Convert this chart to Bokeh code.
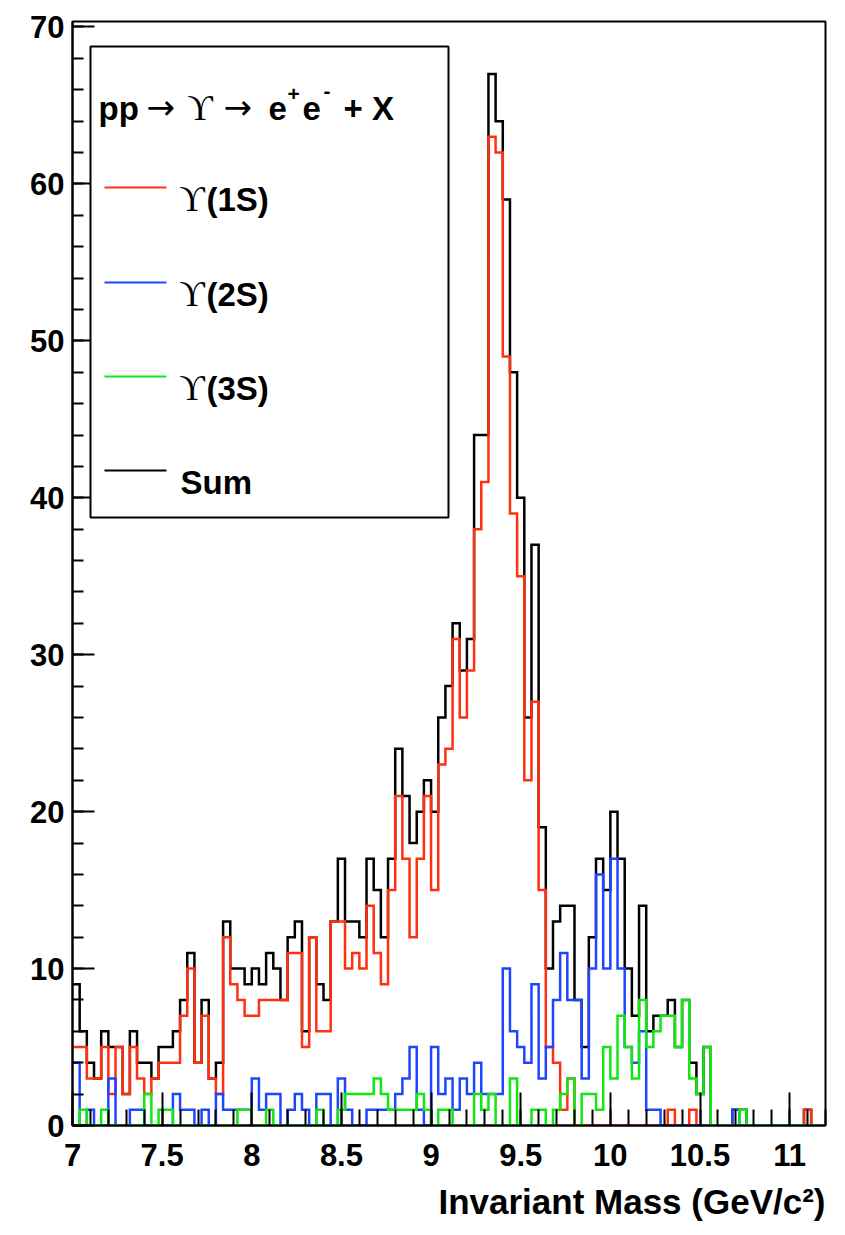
from bokeh.plotting import figure
from bokeh.models import ColumnDataSource, SingleIntervalTicker, Label, BoxAnnotation, Range1d, Title
from bokeh.embed import file_html
from bokeh.resources import INLINE

# Binning of the invariant-mass histograms (GeV/c^2)
x_min, x_max = 7.0, 11.2
bin_width = 0.04
n_bins = 105

# Entries per bin
upsilon_1s = [
    5, 5, 3, 3, 5, 2, 5, 2, 5, 3,
    2, 3, 4, 4, 4, 7, 10, 4, 7, 3,
    2, 12, 9, 8, 7, 7, 8, 8, 8, 8,
    11, 11, 5, 12, 6, 6, 13, 13, 10, 11,
    10, 14, 11, 9, 15, 21, 17, 12, 17, 21,
    15, 23, 24, 31, 26, 29, 38, 41, 63, 62,
    49, 39, 35, 22, 27, 15, 5, 4, 1, 3,
    0, 0, 0, 0, 0, 0, 0, 0, 0, 0,
    0, 0, 0, 1, 0, 0, 1, 0, 0, 0,
    0, 0, 0, 0, 0, 0, 0, 0, 0, 0,
    0, 0, 1, 0, 0,
]
upsilon_2s = [
    4, 0, 1, 0, 0, 3, 0, 0, 1, 1,
    0, 0, 0, 0, 2, 1, 1, 0, 1, 0,
    2, 1, 1, 1, 1, 3, 1, 2, 2, 0,
    1, 2, 1, 0, 2, 2, 0, 3, 1, 0,
    0, 1, 1, 1, 1, 2, 3, 5, 1, 0,
    5, 2, 3, 1, 3, 2, 4, 2, 2, 2,
    10, 6, 5, 4, 9, 3, 5, 8, 11, 8,
    8, 3, 10, 16, 10, 17, 10, 5, 4, 6,
    1, 1, 0, 0, 0, 0, 0, 0, 0, 0,
    0, 0, 1, 0, 0, 0, 0, 0, 0, 0,
    0, 0, 0, 0, 0,
]
upsilon_3s = [
    0, 1, 0, 0, 1, 0, 0, 0, 0, 0,
    2, 0, 1, 1, 0, 0, 0, 0, 0, 0,
    0, 0, 0, 1, 1, 0, 0, 1, 0, 0,
    0, 0, 0, 0, 1, 0, 0, 1, 2, 2,
    2, 2, 3, 2, 1, 1, 1, 1, 2, 1,
    0, 1, 1, 0, 0, 0, 2, 1, 2, 0,
    0, 3, 0, 0, 1, 1, 0, 1, 2, 3,
    0, 2, 2, 1, 5, 3, 7, 5, 3, 8,
    5, 6, 7, 7, 5, 8, 3, 2, 5, 0,
    0, 0, 0, 1, 0, 0, 0, 0, 0, 0,
    0, 0, 0, 0, 0,
]
summed = [
    9, 6, 4, 3, 6, 5, 5, 2, 6, 4,
    4, 3, 5, 5, 6, 8, 11, 4, 8, 3,
    4, 13, 10, 10, 9, 10, 9, 11, 10, 8,
    12, 13, 6, 12, 9, 8, 13, 17, 13, 13,
    12, 17, 15, 12, 17, 24, 21, 18, 20, 22,
    20, 26, 28, 32, 29, 31, 44, 44, 67, 64,
    59, 48, 40, 26, 37, 19, 10, 13, 14, 14,
    8, 5, 12, 17, 15, 20, 17, 10, 7, 14,
    6, 7, 7, 8, 5, 8, 4, 2, 5, 0,
    0, 0, 1, 1, 0, 0, 0, 0, 0, 0,
    0, 0, 1, 0, 0,
]

x_tick_values = [7, 7.5, 8, 8.5, 9, 9.5, 10, 10.5, 11]
x_tick_labels = ["7", "7.5", "8", "8.5", "9", "9.5", "10", "10.5", "11"]

series_names = ["Sum", "1S", "2S", "3S"]
series_colors = {"Sum": "#000000", "1S": "#ff3010", "2S": "#1e46ff", "3S": "#10e810"}

edges = [round(x_min + i * bin_width, 4) for i in range(n_bins + 1)]

W, H = 845, 1235
B_LEFT, B_RIGHT, B_TOP, B_BOTTOM = 72, 20, 21, 110
y_max = 70.35
FRAME_W = W - B_LEFT - B_RIGHT
FRAME_H = H - B_TOP - B_BOTTOM


def sx(px):
    """canvas pixel column -> data x"""
    return x_min + (px - B_LEFT) * (x_max - x_min) / FRAME_W


def sy(py):
    """canvas pixel row -> data y"""
    return (B_TOP + FRAME_H - py) * y_max / FRAME_H


p = figure(width=W, height=H, x_range=Range1d(x_min, x_max), y_range=Range1d(0, y_max),
           output_backend="svg", toolbar_location=None,
           min_border_left=B_LEFT, min_border_right=B_RIGHT,
           min_border_top=B_TOP, min_border_bottom=B_BOTTOM)
p.xgrid.visible = False
p.ygrid.visible = False
p.outline_line_color = "black"
p.outline_line_width = 2
p.outline_line_alpha = 1.0
p.background_fill_color = "white"
p.border_fill_color = "white"

FONT = "Liberation Sans"
SERIF = "Liberation Serif"
ARROW_FONT = "DejaVu Sans"

# axes in the ROOT style: ticks drawn inward
p.xaxis.ticker = SingleIntervalTicker(interval=0.5, num_minor_ticks=5)
p.yaxis.ticker = SingleIntervalTicker(interval=10, num_minor_ticks=5)
overrides = {}
for v, lab in zip(x_tick_values, x_tick_labels):
    overrides[int(v) if float(v).is_integer() else v] = lab
p.xaxis.major_label_overrides = overrides
for ax in (p.xaxis, p.yaxis):
    ax.axis_line_width = 2
    ax.major_tick_out = 0
    ax.minor_tick_out = 0
    ax.major_tick_line_width = 2
    ax.minor_tick_line_width = 2
    ax.major_label_text_font = FONT
    ax.major_label_text_font_style = "bold"
    ax.major_label_text_font_size = "31px"
    ax.major_label_text_color = "black"
p.xaxis.major_tick_in = 33
p.xaxis.minor_tick_in = 16
p.yaxis.major_tick_in = 22
p.yaxis.minor_tick_in = 11
p.xaxis.major_label_standoff = 18
p.yaxis.major_label_standoff = 8

# axis title, right-aligned under the x axis
p.add_layout(Title(text="Invariant Mass (GeV/c\u00b2)", align="right", text_font=FONT,
                   text_font_style="bold", text_font_size="35px", text_color="black",
                   standoff=22, offset=0), "below")

# histograms: black sum below, components on top
series = {"Sum": summed, "1S": upsilon_1s, "2S": upsilon_2s, "3S": upsilon_3s}
for name in series_names:
    counts = series[name]
    src = ColumnDataSource(dict(x=edges, y=list(counts) + [counts[-1]]))
    p.step(x="x", y="y", source=src, mode="after", line_color=series_colors[name],
           line_width=2.5, line_join="miter")

# legend box
p.add_layout(BoxAnnotation(left=sx(90), right=sx(448), top=sy(46), bottom=sy(517),
                           fill_color="white", fill_alpha=1.0, line_color="black",
                           line_alpha=1.0, line_width=2, level="annotation"))


def put(text, px, py, font=FONT, style="bold", size=33):
    p.add_layout(Label(x=sx(px), y=sy(py), text=text, text_align="left",
                       text_baseline="alphabetic", text_font=font, text_font_style=style,
                       text_font_size=f"{size}px", text_color="black"))


# legend header: pp -> Upsilon -> e+e- + X
put("pp", 98, 108)
put("\u2192", 146, 106, font=ARROW_FONT, style="normal", size=34)
put("\u03d2", 187, 108, font=SERIF, style="normal", size=35)
put("\u2192", 223, 106, font=ARROW_FONT, style="normal", size=34)
put("e", 268, 108)
put("+", 287, 93, size=21)
put("e", 302, 108)
put("-", 323, 90, size=21)
put("+ X", 343, 108)

# legend entries
entries = [("1S", "(1S)"), ("2S", "(2S)"), ("3S", "(3S)"), ("Sum", "Sum")]
line_rows = [187, 282, 376, 470]
for (name, lab), row in zip(entries, line_rows):
    p.segment(x0=[sx(104)], y0=[sy(row)], x1=[sx(166)], y1=[sy(row)],
              line_color=series_colors[name], line_width=2, level="overlay")
    base = row + 12
    if name == "Sum":
        put(lab, 180, base)
    else:
        put("\u03d2", 179, base, font=SERIF, style="normal", size=35)
        put(lab, 206, base)

open("out.html", "w").write(file_html(p, INLINE))
